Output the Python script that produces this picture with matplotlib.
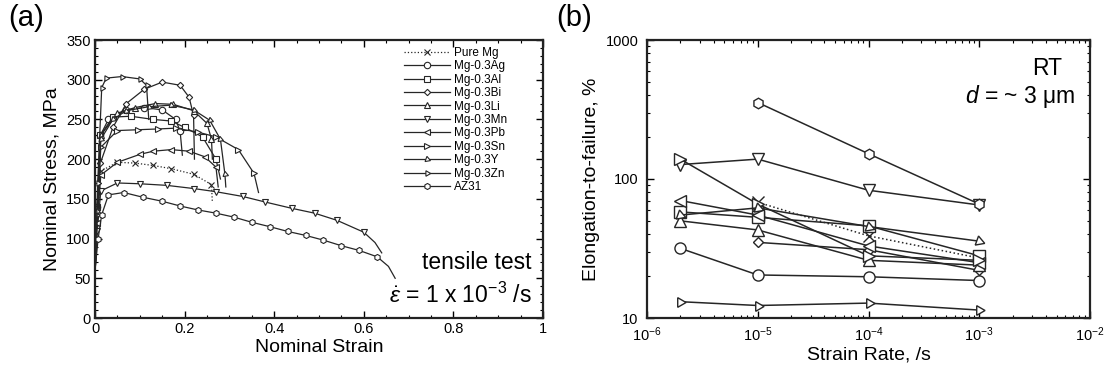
import numpy as np
import matplotlib
matplotlib.use("Agg")
import matplotlib.pyplot as plt
from matplotlib.ticker import MultipleLocator, FixedLocator, FuncFormatter, LogLocator, NullFormatter

plt.rcParams['font.family'] = ['Liberation Sans', 'DejaVu Sans']
plt.rcParams['mathtext.fontset'] = 'custom'
plt.rcParams['mathtext.rm'] = 'Liberation Sans'
plt.rcParams['mathtext.it'] = 'Liberation Sans:italic'
plt.rcParams['mathtext.bf'] = 'Liberation Sans:bold'

# ---------------- Panel (a) data: nominal stress-strain curves ----------------
alloys = ['Pure Mg', 'Mg-0.3Ag', 'Mg-0.3Al', 'Mg-0.3Bi', 'Mg-0.3Li', 'Mg-0.3Mn',
          'Mg-0.3Pb', 'Mg-0.3Sn', 'Mg-0.3Y', 'Mg-0.3Zn', 'AZ31']

puremg_strain = [0.0, 0.005, 0.013, 0.05, 0.09, 0.13, 0.17, 0.22, 0.26, 0.262]
puremg_stress = [55, 120, 185, 196, 195, 192, 188, 181, 168, 145]

ag_strain = [0.0, 0.005, 0.012, 0.03, 0.07, 0.11, 0.15, 0.18, 0.19, 0.195]
ag_stress = [60, 140, 230, 250, 262, 265, 262, 250, 235, 205]

al_strain = [0.0, 0.005, 0.012, 0.04, 0.08, 0.13, 0.17, 0.20, 0.24, 0.27, 0.28]
al_stress = [55, 140, 230, 253, 254, 250, 248, 240, 228, 200, 175]

bi_strain = [0.0, 0.005, 0.012, 0.04, 0.07, 0.11, 0.15, 0.19, 0.21, 0.22, 0.222]
bi_stress = [60, 120, 195, 240, 270, 288, 297, 293, 278, 255, 200]

li_strain = [0.0, 0.005, 0.013, 0.05, 0.09, 0.135, 0.175, 0.22, 0.25, 0.26, 0.262]
li_stress = [55, 140, 230, 258, 265, 270, 269, 261, 245, 225, 200]

mn_strain = [0.0, 0.005, 0.013, 0.05, 0.10, 0.16, 0.22, 0.27, 0.33, 0.38, 0.44, 0.49,
             0.54, 0.60, 0.625, 0.64]
mn_stress = [55, 110, 160, 170, 169, 167, 163, 159, 153, 146, 138, 132,
             123, 108, 95, 82]

pb_strain = [0.0, 0.005, 0.013, 0.05, 0.10, 0.13, 0.17, 0.21, 0.245, 0.27, 0.275]
pb_stress = [55, 120, 180, 196, 206, 210, 212, 210, 203, 190, 165]

sn_strain = [0.0, 0.005, 0.013, 0.05, 0.095, 0.14, 0.18, 0.23, 0.27, 0.32, 0.355, 0.365]
sn_stress = [55, 130, 215, 236, 237, 238, 239, 234, 228, 212, 182, 158]

y_strain = [0.0, 0.005, 0.013, 0.04, 0.07, 0.12, 0.17, 0.22, 0.256, 0.28, 0.29, 0.292]
y_stress = [55, 135, 225, 250, 261, 266, 268, 262, 249, 225, 181, 165]

zn_strain = [0.0, 0.006, 0.015, 0.025, 0.06, 0.10, 0.115, 0.12]
zn_stress = [55, 170, 290, 302, 304, 301, 293, 250]

az31_strain = [0.0, 0.007, 0.015, 0.03, 0.064, 0.107, 0.15, 0.19, 0.23, 0.27, 0.31, 0.35,
               0.39, 0.43, 0.47, 0.51, 0.55, 0.59, 0.63, 0.655, 0.67]
az31_stress = [60, 100, 130, 155, 158, 152, 147, 141, 136, 132, 127, 120.5,
               115, 109, 104, 98, 91, 85, 77, 65, 50]

strain_ticks = [0, 0.2, 0.4, 0.6, 0.8, 1.0]
strain_tick_labels = ['0', '0.2', '0.4', '0.6', '0.8', '1']
stress_ticks = [0, 50, 100, 150, 200, 250, 300, 350]

# ---------------- Panel (b) data: elongation vs strain rate ----------------
strain_rates = [2e-6, 1e-5, 1e-4, 1e-3]
elong_puremg = [np.nan, 68, 39, 27]
elong_ag = [31.7, 20.4, 19.8, 18.6]
elong_al = [58, 53, 46, 28]
elong_bi = [np.nan, 35, 31, 22]
elong_li = [50, 43, 26, 24]
elong_mn = [127, 139, 83, 65]
elong_pb = [70, 55, 33, 25]
elong_sn = [139, 66, 28, 26]
elong_y = [55, 62, 45.5, 35.7]
elong_zn = [13.1, 12.3, 12.8, 11.4]
elong_az31 = [np.nan, 355, 152, 66]

# ---------------- styles ----------------
markers = ['x', 'o', 's', 'D', '^', 'v', '<', '>', (3, 0, -110), (3, 0, 30), 'h']
mscale = [1.0, 1.0, 1.0, 0.7, 1.0, 1.0, 1.0, 1.0, 1.0, 1.0, 0.95]
linestyles = [':'] + ['-'] * 10
lc = '#262626'

curves = [(puremg_strain, puremg_stress), (ag_strain, ag_stress), (al_strain, al_stress),
          (bi_strain, bi_stress), (li_strain, li_stress), (mn_strain, mn_stress),
          (pb_strain, pb_stress), (sn_strain, sn_stress), (y_strain, y_stress),
          (zn_strain, zn_stress), (az31_strain, az31_stress)]
elongs = [elong_puremg, elong_ag, elong_al, elong_bi, elong_li, elong_mn, elong_pb,
          elong_sn, elong_y, elong_zn, elong_az31]

W, H = 1108, 372
fig = plt.figure(figsize=(W / 100, H / 100), dpi=100)
ax1 = fig.add_axes([95 / W, 54 / H, 448 / W, 278 / H])
ax2 = fig.add_axes([647 / W, 54 / H, 443 / W, 278 / H])

# Panel (a)
for i, name in enumerate(alloys):
    sx, sy = curves[i]
    n_end = 2 if name in ('AZ31', 'Mg-0.3Mn') else 1
    ax1.plot(sx, sy, linestyle=linestyles[i], color=lc, lw=0.9,
             marker=markers[i], markersize=4.6 * mscale[i], markerfacecolor='white',
             markeredgecolor=lc, markeredgewidth=0.8,
             markevery=list(range(1, len(sx) - n_end)), label=name)

ax1.set_xlim(0, 1)
ax1.set_ylim(0, 350)
ax1.xaxis.set_major_locator(FixedLocator(strain_ticks))
ax1.set_xticklabels(strain_tick_labels)
ax1.xaxis.set_minor_locator(MultipleLocator(0.05))
ax1.yaxis.set_major_locator(FixedLocator(stress_ticks))
ax1.yaxis.set_minor_locator(MultipleLocator(10))
ax1.set_xlabel('Nominal Strain', fontsize=14, labelpad=2)
ax1.set_ylabel('Nominal Stress, MPa', fontsize=14, labelpad=4)

leg = ax1.legend(loc='upper left', bbox_to_anchor=(0.69, 0.975), frameon=False,
                 fontsize=8.5, handlelength=3.9, handletextpad=0.3,
                 labelspacing=0.12, borderpad=0.0, borderaxespad=0.0)

ax1.text(0.975, 0.175, 'tensile test', transform=ax1.transAxes, ha='right',
         va='baseline', fontsize=16.5)
ax1.text(0.975, 0.055, r'$\dot{\varepsilon}$ = 1 x 10$^{-3}$ /s', transform=ax1.transAxes,
         ha='right', va='baseline', fontsize=16.5)

# Panel (b)
for i, name in enumerate(alloys):
    ax2.plot(strain_rates, elongs[i], linestyle=linestyles[i], color=lc, lw=1.1,
             marker=markers[i], markersize=8 * mscale[i], markerfacecolor='white',
             markeredgecolor=lc, markeredgewidth=1.0, label=name)

ax2.set_xscale('log')
ax2.set_yscale('log')
ax2.set_xlim(1e-6, 1e-2)
ax2.set_ylim(10, 1000)
ax2.xaxis.set_major_locator(LogLocator(base=10, numticks=10))
ax2.xaxis.set_minor_locator(LogLocator(base=10, subs=np.arange(2, 10), numticks=10))
ax2.xaxis.set_minor_formatter(NullFormatter())
ax2.yaxis.set_major_locator(FixedLocator([10, 100, 1000]))
ax2.yaxis.set_major_formatter(FuncFormatter(lambda v, p: '%d' % v))
ax2.yaxis.set_minor_locator(LogLocator(base=10, subs=np.arange(2, 10), numticks=10))
ax2.yaxis.set_minor_formatter(NullFormatter())
ax2.set_xlabel('Strain Rate, /s', fontsize=14, labelpad=2)
ax2.set_ylabel('Elongation-to-failure, %', fontsize=14, labelpad=4)

ax2.text(0.937, 0.874, 'RT', transform=ax2.transAxes, ha='right', va='baseline', fontsize=16.5)
ax2.text(0.966, 0.773, '$d$ = ~ 3 μm', transform=ax2.transAxes, ha='right',
         va='baseline', fontsize=16.5)

for ax in (ax1, ax2):
    ax.tick_params(which='both', direction='in', top=True, right=True, labelsize=10.5)
    ax.tick_params(which='major', length=5, width=1.0, pad=3)
    ax.tick_params(which='minor', length=2.5, width=0.8)
    for s in ax.spines.values():
        s.set_linewidth(1.6)
        s.set_color('#222222')

ax2.tick_params(axis='x', which='major', pad=5)
ax2.tick_params(axis='y', which='major', pad=6)

fig.text(8 / W, 1 - 4 / H, '(a)', ha='left', va='top', fontsize=21)
fig.text(556 / W, 1 - 4 / H, '(b)', ha='left', va='top', fontsize=21)

fig.savefig('out.png', dpi=100, facecolor='white')
